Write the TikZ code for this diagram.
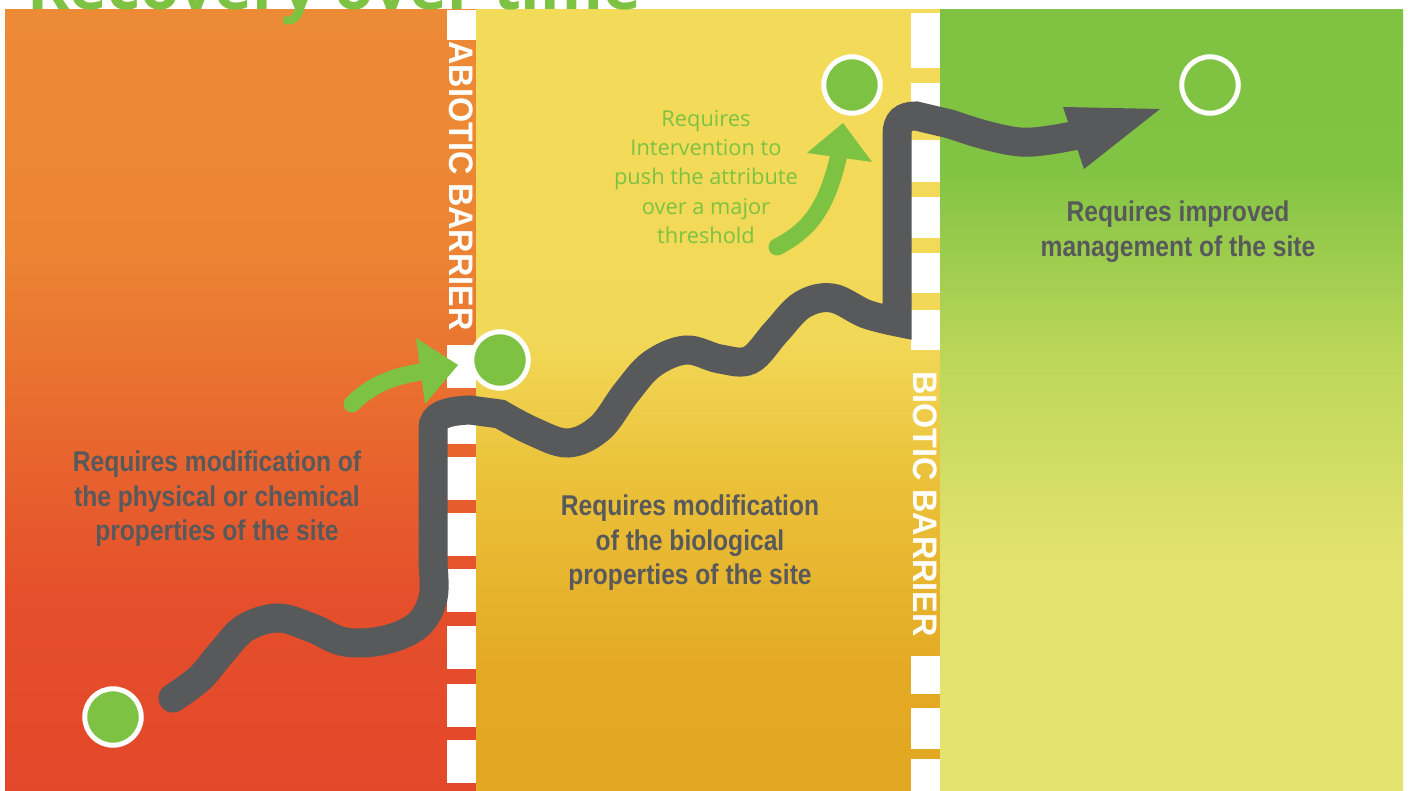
\documentclass[tikz,border=0pt]{standalone}
\usepackage{fontspec}
\setmainfont{Liberation Sans}
\newfontfamily\headface{Open Sans}
\newfontfamily\calloutface{Open Sans}
\newfontfamily\noteface{Liberation Sans}[FakeStretch=0.86]
\newfontfamily\barface{Liberation Sans}[FakeStretch=0.95]

\definecolor{leafgreen}{HTML}{7DC242}
\definecolor{slate}{HTML}{58595B}
% abiotic zone (orange to red)
\definecolor{orT}{HTML}{ED8A35}
\definecolor{orA}{HTML}{EC8533}
\definecolor{orB}{HTML}{E54F2B}
\definecolor{orC}{HTML}{E3482A}
% biotic zone (yellow to amber)
\definecolor{yeT}{HTML}{F3DB5A}
\definecolor{yeA}{HTML}{F2D857}
\definecolor{yeB}{HTML}{EBC13A}
\definecolor{yeC}{HTML}{E4A923}
\definecolor{yeD}{HTML}{E3A722}
% managed zone (green to pale lime)
\definecolor{grT}{HTML}{7FC242}
\definecolor{grA}{HTML}{81C343}
\definecolor{grB}{HTML}{BDD75A}
\definecolor{grC}{HTML}{E2E26D}
\definecolor{grD}{HTML}{E4E370}

\pgfdeclareverticalshading{abioticzone}{100bp}{color(0bp)=(orC); color(25bp)=(orC); color(37.5bp)=(orB); color(60bp)=(orA); color(75bp)=(orT); color(100bp)=(orT)}
\pgfdeclareverticalshading{bioticzone}{100bp}{color(0bp)=(yeD); color(25bp)=(yeD); color(32.5bp)=(yeC); color(45bp)=(yeB); color(54bp)=(yeA); color(75bp)=(yeT); color(100bp)=(yeT)}
\pgfdeclareverticalshading{managedzone}{100bp}{color(0bp)=(grD); color(25bp)=(grD); color(40bp)=(grC); color(52.5bp)=(grB); color(65bp)=(grA); color(75bp)=(grT); color(100bp)=(grT)}

\tikzset{
  graytext/.style={align=center, text=slate, inner sep=0pt,
    font=\noteface\bfseries\fontsize{28.6}{34.5}\selectfont},
  callout/.style={align=center, text=leafgreen, inner sep=0pt,
    font=\calloutface\fontsize{21.8}{29.3}\selectfont},
  barlabel/.style={text=white, inner sep=0pt, rotate=-90,
    font=\barface\bfseries\fontsize{34}{34}\selectfont},
  milestone/.style={circle, fill=leafgreen, draw=white, line width=5pt,
    minimum size=56.5pt, inner sep=0pt},
  goal/.style={circle, draw=white, line width=5pt,
    minimum size=56.5pt, inner sep=0pt},
  trajectory/.style={slate, line width=29pt, line cap=round, line join=miter},
  nudge/.style={leafgreen, line width=17pt, line cap=round},
}

\begin{document}
\begin{tikzpicture}[x=1pt, y=-1pt]
\useasboundingbox (0,0) rectangle (1408,791);
\fill[white] (0,0) rectangle (1408,791);

% three zones
\shade[shading=abioticzone] (5,10) rectangle (476,791);
\shade[shading=bioticzone] (476,10) rectangle (940,791);
\shade[shading=managedzone] (940,10) rectangle (1403,791);

% dashed barrier strips
\foreach \a/\b in {10/40, 345/388, 401/444, 457/500, 513/556, 569/612, 626/669, 684/727, 740/783}
  \fill[white] (447,\a) rectangle (476,\b);
\foreach \a/\b in {13/68, 83/125, 140/182, 197/238, 253/293, 310/350, 656/694, 708/749, 759/791}
  \fill[white] (911,\a) rectangle (940,\b);

\node[barlabel] (abiotic) at (461.5,186) {ABIOTIC BARRIER};
\node[barlabel] (biotic) at (925.5,504) {BIOTIC BARRIER};

% heading
\node[anchor=base west, inner sep=0pt, text=leafgreen,
  font=\headface\bfseries\fontsize{64}{64}\selectfont] (title) at (27,10) {Recovery over time};

% recovery trajectory
\coordinate (start) at (173,698);
\coordinate (firststep) at (433,428);
\coordinate (secondstep) at (897,135);
\draw[trajectory]
  plot[smooth, tension=0.6] coordinates {(start) (200,678) (222,652) (245,628) (278,618) (312,628) (345,642) (385,640) (418,625) (433,598) (433,565)}
  -- (firststep)
  .. controls (433,416) and (445,411) .. (470,410)
  -- plot[smooth, tension=0.6] coordinates {(500,414) (532,431) (568,443) (600,428) (626,393) (652,364) (686,350) (720,359) (750,360) (776,332) (802,305) (832,298) (866,314) (897,322)}
  -- (secondstep)
  .. controls (897,121) and (903,116) .. (916,116)
  -- plot[smooth, tension=0.6] coordinates {(950,124) (985,135) (1020,142) (1050,140) (1082,134)};
\fill[slate] (1063,107) -- (1160,109) -- (1084,169) -- cycle;

% interventions
\draw[nudge] (352,404) .. controls (372,384) and (395,375) .. (428,371);
\fill[leafgreen] (416,338) -- (458,365) -- (425,404) -- cycle;
\draw[nudge] (777,247) .. controls (812,229) and (828,205) .. (840,150);
\fill[leafgreen] (807,153) -- (843,123) -- (872,162) -- cycle;

% states
\node[milestone] (degraded) at (113,717) {};
\node[milestone] (abioticpass) at (500,360) {};
\node[milestone] (bioticpass) at (852,85) {};
\node[goal] (target) at (1210,85) {};

% captions
\node[graytext] (physical) at (217,499) {Requires modification of\\the physical or chemical\\properties of the site};
\node[graytext] (biological) at (690,543) {Requires modification\\of the biological\\properties of the site};
\node[graytext] (management) at (1178,231.5) {Requires improved\\management of the site};
\node[callout] (intervention) at (706,177) {Requires\\Intervention to\\push the attribute\\over a major\\threshold};
\end{tikzpicture}
\end{document}
